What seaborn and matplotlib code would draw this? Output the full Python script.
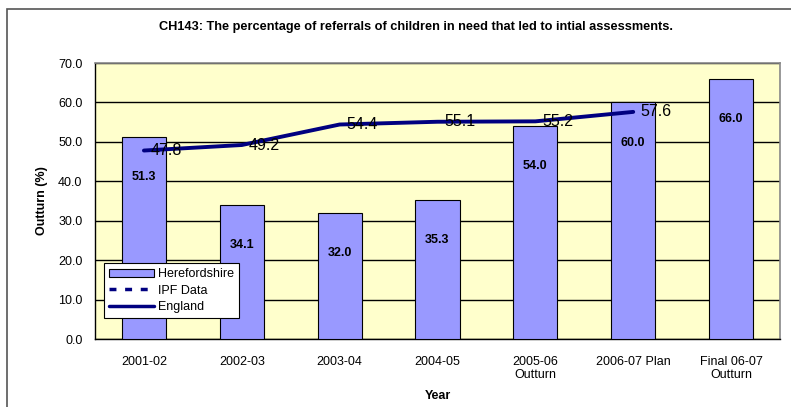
import numpy as np
import pandas as pd
import seaborn as sns
import matplotlib.pyplot as plt
from matplotlib.patches import Rectangle, Patch
from matplotlib.lines import Line2D

years = ["2001-02", "2002-03", "2003-04", "2004-05", "2005-06\nOutturn",
         "2006-07 Plan", "Final 06-07\nOutturn"]
herefordshire = [51.3, 34.1, 32.0, 35.3, 54.0, 60.0, 66.0]
england = [47.8, 49.2, 54.4, 55.1, 55.2, 57.6]
yticks = [0, 10, 20, 30, 40, 50, 60, 70]

sns.set_style("white")
plt.rcParams['font.family'] = ['Liberation Sans', 'DejaVu Sans']
plt.rcParams['text.color'] = 'black'
plt.rcParams['axes.labelcolor'] = 'black'
plt.rcParams['xtick.color'] = 'black'
plt.rcParams['ytick.color'] = 'black'

fig = plt.figure(figsize=(7.91, 4.07), dpi=100)
ax = fig.add_axes([95/791, 1-339/407, 685/791, 276/407])

# outer chart frame
fig.patches.append(Rectangle((7/791, -0.2), 1.2, 1.2-9/407, transform=fig.transFigure,
                             fill=False, edgecolor='#555555', lw=1.2))

df = pd.DataFrame({"Year": years, "Herefordshire": herefordshire})
ax.set_facecolor('#FFFFCC')
sns.barplot(data=df, x="Year", y="Herefordshire", color='#9999FF', saturation=1,
            edgecolor='black', linewidth=0.8, width=0.45, ax=ax, zorder=3)
sns.lineplot(x=np.arange(len(england)), y=england, color='#000080', lw=2.8, ax=ax, zorder=4)

for i, v in enumerate(herefordshire):
    ax.annotate(f"{v:.1f}", (i, v), xytext=(0, -29), textcoords='offset points',
                ha='center', va='center', fontsize=9, fontweight='bold', zorder=5)
for i, v in enumerate(england):
    ax.annotate(f"{v:.1f}", (i, v), xytext=(5, 0), textcoords='offset points',
                ha='left', va='center', fontsize=11.5, zorder=5)

ax.set_ylim(0, 70)
ax.set_xlim(-0.5, len(years) - 0.5)
ax.set_yticks(yticks)
ax.set_yticklabels([f"{t:.1f}" for t in yticks], fontsize=9)
ax.yaxis.grid(True, color='black', lw=1, zorder=1)
ax.set_axisbelow(True)
ax.set_xticks(np.arange(len(years)))
ax.set_xticklabels(years, fontsize=9)
ax.set_xticks(np.arange(len(years) + 1) - 0.5, minor=True)
ax.tick_params(axis='x', which='major', length=0, pad=12)
ax.tick_params(axis='x', which='minor', length=5, direction='out', color='black', width=1)
ax.tick_params(axis='y', length=5, direction='out', color='black', width=1, pad=4)

for s in ['left', 'bottom']:
    ax.spines[s].set_color('black')
    ax.spines[s].set_linewidth(1)
for s in ['top', 'right']:
    ax.spines[s].set_color('#888888')
    ax.spines[s].set_linewidth(1.2)

ax.set_xlabel("Year", fontsize=9, fontweight='bold', labelpad=6)
ax.set_ylabel("Outturn (%)", fontsize=9, fontweight='bold', labelpad=7)
fig.text(416/791, 1-27/407, "CH143: The percentage of referrals of children in need that led to intial assessments.",
         ha='center', va='center', fontsize=9.2, fontweight='bold')

handles = [Patch(facecolor='#9999FF', edgecolor='black', lw=0.8),
           Line2D([], [], color='#000080', lw=2.5, ls=(0, (2, 2.5))),
           Line2D([], [], color='#000080', lw=2.5)]
leg = ax.legend(handles, ["Herefordshire", "IPF Data", "England"], loc='lower left',
                bbox_to_anchor=(0.013, 0.076), fontsize=9, frameon=True, fancybox=False,
                framealpha=1, edgecolor='black', handlelength=3.6, handletextpad=0.3,
                labelspacing=0.35, borderpad=0.4, borderaxespad=0)
leg.get_frame().set_linewidth(0.8)
leg.set_zorder(6)

fig.savefig("out.png", dpi=100)
